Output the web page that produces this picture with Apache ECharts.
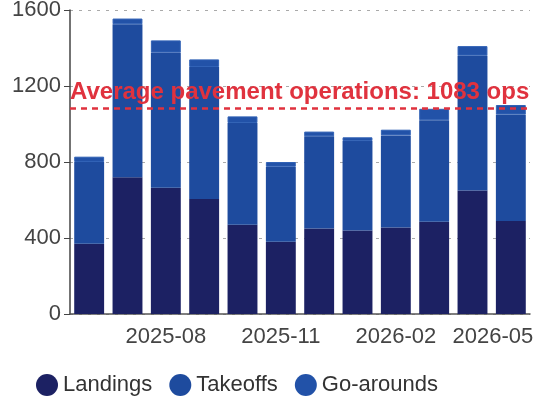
<!DOCTYPE html>
<html>
<head>
<meta charset="utf-8">
<script src="https://cdn.jsdelivr.net/npm/echarts@6/dist/echarts.min.js"></script>
<style>
  html, body { margin: 0; padding: 0; background: #ffffff; }
  #chart { width: 536px; height: 398px; }
</style>
</head>
<body>
<div id="chart"></div>
<script>
// Monthly runway operations, stacked by type
const months = ['2025-06', '2025-07', '2025-08', '2025-09', '2025-10', '2025-11',
                '2025-12', '2026-01', '2026-02', '2026-03', '2026-04', '2026-05'];
const landings   = [370, 720, 665, 605, 470, 380, 450, 440, 455, 485, 650, 490];
const takeoffs   = [430, 805, 711, 695, 535, 395, 485, 470, 485, 535, 710, 560];
const goArounds  = [28, 30, 64, 40, 35, 25, 25, 20, 30, 60, 50, 50];
const yTicks     = [0, 400, 800, 1200, 1600];

// Average of pavement operations (landings + takeoffs)
const pavementOps = landings.map((v, i) => v + takeoffs[i]);
const avgOps = Math.round(pavementOps.reduce((a, b) => a + b, 0) / pavementOps.length);

const fontFamily = '"Liberation Sans", Arial, sans-serif';
const showEveryThird = (i) => i % 3 === 2;
const chart = echarts.init(document.getElementById('chart'));

chart.setOption({
  animation: false,
  textStyle: { fontFamily: fontFamily },
  grid: { left: 70, right: 6, top: 10, bottom: 84, outerBoundsMode: 'none' },
  legend: {
    left: 31,
    top: 369,
    icon: 'circle',
    itemWidth: 22,
    itemHeight: 22,
    itemGap: 17,
    itemStyle: { borderWidth: 0 },
    textStyle: { fontSize: 22, color: '#333', fontFamily: fontFamily },
    data: ['Landings', 'Takeoffs', 'Go-arounds']
  },
  xAxis: {
    type: 'category',
    data: months,
    axisLine: { lineStyle: { color: '#555', width: 1.5 } },
    axisTick: {
      alignWithLabel: true,
      interval: showEveryThird,
      length: 6,
      lineStyle: { color: '#555' }
    },
    axisLabel: {
      interval: showEveryThird,
      fontSize: 22,
      color: '#444',
      margin: 12,
      // keep the last month label inside the canvas
      formatter: (v, i) => (i === months.length - 1 ? '{last|' + v + '}' : v),
      rich: { last: { fontSize: 22, color: '#444', padding: [0, 36, 0, 0] } }
    }
  },
  yAxis: {
    type: 'value',
    min: yTicks[0],
    max: yTicks[yTicks.length - 1],
    interval: 400,
    axisLine: { show: true, lineStyle: { color: '#444', width: 1.5 } },
    axisTick: { show: true, length: 6, lineStyle: { color: '#444' } },
    axisLabel: { fontSize: 22, color: '#444', margin: 9, formatter: (v) => String(v) },
    splitLine: { lineStyle: { color: '#aaa', type: [3, 6], width: 1 } }
  },
  series: [
    {
      name: 'Landings',
      type: 'bar',
      stack: 'ops',
      barCategoryGap: '22%',
      data: landings,
      itemStyle: { color: '#1c2163' }
    },
    {
      name: 'Takeoffs',
      type: 'bar',
      stack: 'ops',
      data: takeoffs,
      itemStyle: { color: '#1e4b9e' }
    },
    {
      name: 'Go-arounds',
      type: 'bar',
      stack: 'ops',
      data: goArounds,
      itemStyle: { color: '#2252a8', borderColor: '#3162b6', borderWidth: 1 },
      markLine: {
        silent: true,
        symbol: 'none',
        lineStyle: { color: '#e0323e', type: [6, 5], width: 2.5 },
        label: {
          show: true,
          position: 'insideStartTop',
          distance: [0, 4],
          formatter: 'Average pavement operations: ' + avgOps + ' ops',
          color: '#e0323e',
          fontSize: 24,
          fontWeight: 'bold',
          fontFamily: fontFamily
        },
        data: [{ yAxis: avgOps }]
      }
    }
  ]
});
</script>
</body>
</html>
